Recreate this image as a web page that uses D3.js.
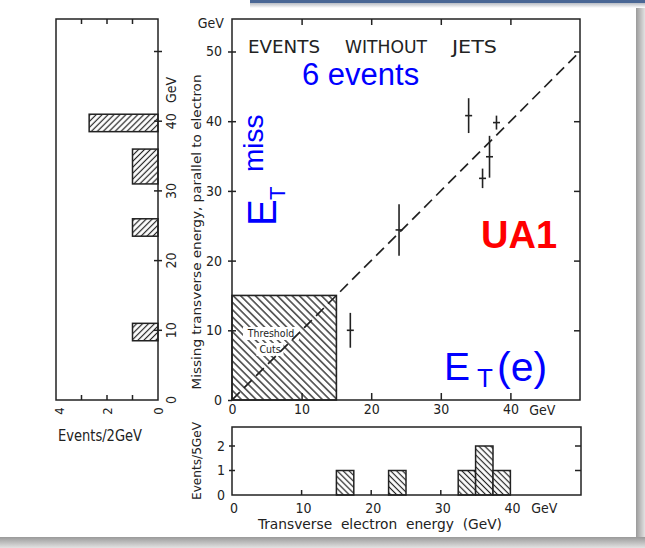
<!DOCTYPE html>
<html><head><meta charset="utf-8">
<script src="https://cdn.jsdelivr.net/npm/d3@7"></script>
<style>
body{margin:0;background:#fff;}
svg{display:block;}
.scan{font-family:"DejaVu Sans Condensed","DejaVu Sans","Liberation Sans Narrow",sans-serif;font-stretch:condensed;fill:#222;}
.note{font-family:"Liberation Sans",Arial,"Noto Sans",sans-serif;}
.frame{fill:none;stroke:#222;stroke-width:1.5;}
</style></head><body>
<svg id="c" width="645" height="548"></svg>
<script>
// UA1 events without jets: missing transverse energy vs electron transverse energy
const eventEt = [17, 24, 34, 36, 37, 38];
const eventMiss = [10, 24.4, 40.8, 31.8, 34.9, 39.8];
const eventMissErr = [2.5, 3.7, 2.5, 1.4, 3.0, 1.0];

// projection on the missing-energy axis (events per bin)
const missBinLo = [8.5, 23.5, 31, 38.5];
const missBinHi = [11, 26, 36, 41];
const missCounts = [1, 1, 1, 2.7];

// projection on the electron-energy axis (events per bin)
const etBinLo = [15, 22.5, 32.5, 35, 37.5];
const etBinHi = [17.5, 25, 35, 37.5, 40];
const etCounts = [1, 1, 1, 2, 1];

const thresholdCut = 15;
const energyTicks = [0, 10, 20, 30, 40, 50];
const energyLabels = ["0", "10", "20", "30", "40", "50"];
const leftCountTicks = [1, 2, 3];
const leftCountLabels = [0, 2, 4];
const bottomCountTicks = [0, 1, 2];

const svg = d3.select("#c");
const defs = svg.append("defs");

// slide decoration: shadow on right and bottom, rule along the top
const gR = defs.append("linearGradient").attr("id", "shR").attr("x1", 0).attr("x2", 1).attr("y1", 0).attr("y2", 0);
gR.append("stop").attr("offset", 0).attr("stop-color", "#9a9a9a");
gR.append("stop").attr("offset", 1).attr("stop-color", "#e2e2e2");
const gB = defs.append("linearGradient").attr("id", "shB").attr("x1", 0).attr("x2", 0).attr("y1", 0).attr("y2", 1);
gB.append("stop").attr("offset", 0).attr("stop-color", "#9a9a9a");
gB.append("stop").attr("offset", 1).attr("stop-color", "#e2e2e2");
const gT = defs.append("linearGradient").attr("id", "shT").attr("x1", 0).attr("x2", 0).attr("y1", 0).attr("y2", 1);
gT.append("stop").attr("offset", 0).attr("stop-color", "#b8bcc4");
gT.append("stop").attr("offset", 1).attr("stop-color", "#ffffff");

svg.append("rect").attr("x", 636).attr("y", 0).attr("width", 9).attr("height", 548).attr("fill", "url(#shR)");
svg.append("rect").attr("x", 0).attr("y", 537).attr("width", 645).attr("height", 11).attr("fill", "url(#shB)");
svg.append("rect").attr("x", 250).attr("y", 3).attr("width", 395).attr("height", 5).attr("fill", "url(#shT)");
svg.append("rect").attr("x", 250).attr("y", 0).attr("width", 395).attr("height", 3).attr("fill", "#4a6795");

// hatch patterns
function hatch(id, angle, gap, w) {
  const p = defs.append("pattern").attr("id", id).attr("patternUnits", "userSpaceOnUse")
    .attr("width", gap).attr("height", gap).attr("patternTransform", `rotate(${angle})`);
  p.append("rect").attr("width", gap).attr("height", gap).attr("fill", "#fff");
  p.append("line").attr("x1", gap / 2).attr("y1", 0).attr("x2", gap / 2).attr("y2", gap)
    .attr("stroke", "#222").attr("stroke-width", w);
}
hatch("hBack", -45, 5.2, 1.3);
hatch("hFwd", 45, 4.2, 1.2);
hatch("hBackS", -45, 4.2, 1.2);

// scales
const x = d3.scaleLinear().domain([0, 50]).range([232, 580]);
const y = d3.scaleLinear().domain([0, 50]).range([400, 51.5]);
const frameTop = 19;
const cx = d3.scaleLinear().domain([0, 4]).range([158, 56]);
const by = d3.scaleLinear().domain([0, 2]).range([495, 446]);
const bottomTop = 427;

const ink = "#222";

// ---------- main scatter panel ----------
const main = svg.append("g");

main.append("rect")
  .attr("x", x(0)).attr("y", y(thresholdCut))
  .attr("width", x(thresholdCut) - x(0)).attr("height", y(0) - y(thresholdCut))
  .attr("fill", "url(#hBack)").attr("stroke", ink).attr("stroke-width", 1.6);

// label patches inside the cut region
const cutLabels = [["Threshold", 271, 337, 56], ["Cuts", 270, 353, 27]];
main.selectAll("rect.patch").data(cutLabels).join("rect").attr("class", "patch")
  .attr("x", d => d[1] - d[3] / 2).attr("y", d => d[2] - 10).attr("width", d => d[3]).attr("height", 13)
  .attr("fill", "#fff");
main.selectAll("text.cut").data(cutLabels).join("text").attr("class", "scan cut")
  .attr("x", d => d[1]).attr("y", d => d[2]).attr("text-anchor", "middle")
  .attr("font-size", 10.5).text(d => d[0]);

// diagonal E_T(miss) = E_T(e)
main.append("path")
  .datum([[0, 0], [50, 50]])
  .attr("d", d3.line().x(d => x(d[0])).y(d => y(d[1])))
  .attr("fill", "none").attr("stroke", ink).attr("stroke-width", 1.7)
  .attr("stroke-dasharray", "11,6");

// events with errors
const ev = eventEt.map((e, i) => ({ e, m: eventMiss[i], s: eventMissErr[i] }));
main.selectAll("line.err").data(ev).join("line").attr("class", "err")
  .attr("x1", d => x(d.e)).attr("x2", d => x(d.e))
  .attr("y1", d => y(d.m - d.s)).attr("y2", d => y(d.m + d.s))
  .attr("stroke", ink).attr("stroke-width", 1.6);
main.selectAll("line.cen").data(ev).join("line").attr("class", "cen")
  .attr("x1", d => x(d.e) - 3.5).attr("x2", d => x(d.e) + 3.5)
  .attr("y1", d => y(d.m)).attr("y2", d => y(d.m))
  .attr("stroke", ink).attr("stroke-width", 1.6);

main.append("rect").attr("class", "frame")
  .attr("x", x(0)).attr("y", frameTop).attr("width", x(50) - x(0)).attr("height", y(0) - frameTop);

// axes
const axL = main.append("g").attr("transform", `translate(${x(0)},0)`)
  .call(d3.axisLeft(y).tickValues(energyTicks).tickFormat((d, i) => energyLabels[i]).tickSize(4).tickPadding(6));
const axB = main.append("g").attr("transform", `translate(0,${y(0)})`)
  .call(d3.axisBottom(x).tickValues(energyTicks.slice(0, 5)).tickFormat((d, i) => energyLabels[i]).tickSize(-7).tickPadding(4));
const axR = main.append("g").attr("transform", `translate(${x(50)},0)`)
  .call(d3.axisRight(y).tickValues(energyTicks.slice(1)).tickSize(-6).tickFormat(""));
const axT = main.append("g").attr("transform", `translate(0,${frameTop})`)
  .call(d3.axisTop(x).tickValues(energyTicks.slice(1, 5)).tickSize(-6).tickFormat(""));
[axL, axB, axR, axT].forEach(a => {
  a.select(".domain").remove();
  a.selectAll(".tick line").attr("stroke", ink).attr("stroke-width", 1.5);
  a.selectAll(".tick text").attr("class", "scan").attr("font-size", 14).attr("font-family", null).attr("fill", ink);
});
axL.selectAll(".tick line").attr("x1", d => d > 0 ? 4 : 0);
axB.selectAll(".tick").filter(d => d === 0).select("line").remove();

main.append("text").attr("class", "scan").attr("x", x(44.6)).attr("y", 415)
  .attr("text-anchor", "middle").attr("font-size", 14).text("GeV");
main.append("text").attr("class", "scan").attr("x", 224).attr("y", 28)
  .attr("text-anchor", "end").attr("font-size", 14).text("GeV");

// title words
const titleWords = [["EVENTS", 248, 72], ["WITHOUT", 345, 82], ["JETS", 452, 45]];
main.selectAll("text.title").data(titleWords).join("text").attr("class", "scan title")
  .attr("x", d => d[1]).attr("y", 52.5).attr("font-size", 18)
  .attr("textLength", d => d[2]).attr("lengthAdjust", "spacingAndGlyphs").text(d => d[0]);

// vertical axis title
main.append("text").attr("class", "scan")
  .attr("transform", "translate(201,232) rotate(-90)")
  .attr("text-anchor", "middle").attr("font-size", 12.5)
  .attr("textLength", 315).attr("lengthAdjust", "spacingAndGlyphs")
  .text("Missing transverse energy, parallel to electron");

// annotations
main.append("text").attr("class", "note").attr("x", 302).attr("y", 85)
  .attr("font-size", 31).attr("fill", "#0000ff").text("6 events");
main.append("text").attr("class", "note").attr("x", 481).attr("y", 248)
  .attr("font-size", 38).attr("font-weight", "bold").attr("fill", "#ff0000").text("UA1");

const etE = main.append("g").attr("class", "note").attr("fill", "#0000ff");
etE.append("text").attr("x", 444).attr("y", 380).attr("font-size", 39).text("E");
etE.append("text").attr("x", 477).attr("y", 387).attr("font-size", 26).text("T");
etE.append("text").attr("x", 497).attr("y", 381).attr("font-size", 41).text("(e)");

const etM = main.append("g").attr("class", "note").attr("fill", "#0000ff")
  .attr("transform", "translate(276,226) rotate(-90)");
etM.append("text").attr("x", 0).attr("y", 0).attr("font-size", 40).text("E");
etM.append("text").attr("x", 26).attr("y", 9).attr("font-size", 22).text("T");
etM.append("text").attr("x", 54).attr("y", -13).attr("font-size", 28).text("miss");

// ---------- left projection (missing energy) ----------
const left = svg.append("g");
const lb = missCounts.map((c, i) => ({ c, lo: missBinLo[i], hi: missBinHi[i] }));
left.selectAll("rect.bar").data(lb).join("rect").attr("class", "bar")
  .attr("x", d => cx(d.c)).attr("width", d => cx(0) - cx(d.c))
  .attr("y", d => y(d.hi)).attr("height", d => y(d.lo) - y(d.hi))
  .attr("fill", "url(#hFwd)").attr("stroke", ink).attr("stroke-width", 1.5);
left.append("rect").attr("class", "frame")
  .attr("x", cx(4)).attr("y", frameTop).attr("width", cx(0) - cx(4)).attr("height", y(0) - frameTop);
// energy ticks on the right edge
left.selectAll("line.et").data(energyTicks.slice(1)).join("line").attr("class", "et")
  .attr("x1", cx(0) - 4).attr("x2", cx(0) + 4).attr("y1", d => y(d)).attr("y2", d => y(d))
  .attr("stroke", ink).attr("stroke-width", 1.5);
left.selectAll("text.el").data(energyTicks.slice(0, 5).map((v, i) => [v, energyLabels[i]]).concat([[44.5, "GeV"]]))
  .join("text").attr("class", "scan el")
  .attr("transform", d => `translate(${cx(0) + 13},${y(d[0])}) rotate(-90)`)
  .attr("text-anchor", "middle").attr("dy", "0.35em").attr("font-size", 14).text(d => d[1]);
// count ticks top and bottom
left.selectAll("line.cb").data(leftCountTicks).join("line").attr("class", "cb")
  .attr("x1", d => cx(d)).attr("x2", d => cx(d)).attr("y1", y(0)).attr("y2", y(0) - 5)
  .attr("stroke", ink).attr("stroke-width", 1.5);
left.selectAll("line.ct").data(leftCountTicks).join("line").attr("class", "ct")
  .attr("x1", d => cx(d)).attr("x2", d => cx(d)).attr("y1", frameTop).attr("y2", frameTop + 5)
  .attr("stroke", ink).attr("stroke-width", 1.5);
left.selectAll("text.cl").data(leftCountLabels).join("text").attr("class", "scan cl")
  .attr("transform", d => `translate(${cx(d) + (d === 4 ? 3 : 0)},${y(0) + 11}) rotate(-90)`)
  .attr("text-anchor", "middle").attr("dy", "0.35em").attr("font-size", 13).text(d => d);
left.append("text").attr("class", "scan").attr("x", 58).attr("y", 441)
  .attr("font-size", 15).attr("textLength", 84).attr("lengthAdjust", "spacingAndGlyphs").text("Events/2GeV");

// ---------- bottom projection (electron energy) ----------
const bot = svg.append("g");
const bb = etCounts.map((c, i) => ({ c, lo: etBinLo[i], hi: etBinHi[i] }));
bot.selectAll("rect.bar").data(bb).join("rect").attr("class", "bar")
  .attr("x", d => x(d.lo)).attr("width", d => x(d.hi) - x(d.lo))
  .attr("y", d => by(d.c)).attr("height", d => by(0) - by(d.c))
  .attr("fill", "url(#hBackS)").attr("stroke", ink).attr("stroke-width", 1.5);
bot.append("rect").attr("class", "frame")
  .attr("x", x(0)).attr("y", bottomTop).attr("width", x(50) - x(0) + 1).attr("height", by(0) - bottomTop);
bot.selectAll("line.bx").data([10, 20, 30]).join("line").attr("class", "bx")
  .attr("x1", d => x(d)).attr("x2", d => x(d)).attr("y1", by(0)).attr("y2", by(0) - 5)
  .attr("stroke", ink).attr("stroke-width", 1.5);
bot.selectAll("line.byl").data([1, 2]).join("line").attr("class", "byl")
  .attr("x1", x(0) - 3).attr("x2", x(0) + 3).attr("y1", d => by(d)).attr("y2", d => by(d))
  .attr("stroke", ink).attr("stroke-width", 1.5);
bot.selectAll("line.byr").data([1, 2]).join("line").attr("class", "byr")
  .attr("x1", x(50) + 1).attr("x2", x(50) - 5).attr("y1", d => by(d)).attr("y2", d => by(d))
  .attr("stroke", ink).attr("stroke-width", 1.5);
bot.selectAll("text.byt").data(bottomCountTicks).join("text").attr("class", "scan byt")
  .attr("x", 225).attr("y", d => by(d)).attr("dy", "0.35em").attr("text-anchor", "end")
  .attr("font-size", 14).text(d => d);
bot.selectAll("text.bxt").data(energyTicks.slice(0, 5).map((v, i) => [v, energyLabels[i]]).concat([[44.6, "GeV"]]))
  .join("text").attr("class", "scan bxt")
  .attr("x", d => x(d[0]) + 2).attr("y", 513).attr("text-anchor", "middle").attr("font-size", 14).text(d => d[1]);
bot.append("text").attr("class", "scan")
  .attr("transform", "translate(201,461) rotate(-90)").attr("text-anchor", "middle")
  .attr("font-size", 13).attr("textLength", 78).attr("lengthAdjust", "spacingAndGlyphs").text("Events/5GeV");
bot.append("text").attr("class", "scan").attr("x", 258).attr("y", 529)
  .attr("font-size", 13.5).attr("textLength", 244).attr("lengthAdjust", "spacingAndGlyphs")
  .style("white-space", "pre").text("Transverse  electron  energy  (GeV)");
</script>
</body></html>
